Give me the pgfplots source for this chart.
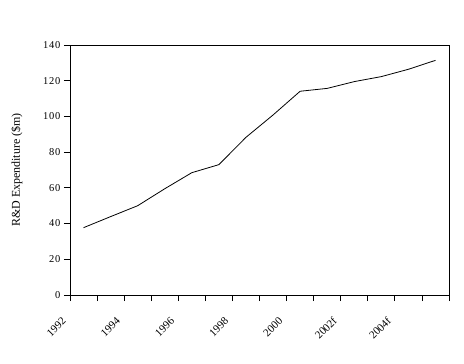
\documentclass[border=0pt]{standalone}
\usepackage{pgfplots}
\pgfplotsset{compat=1.18}
\usepackage{fontspec}
\setmainfont{Liberation Serif}
\newfontfamily\lsfont[LetterSpace=8]{Liberation Serif}
\begin{document}
\begin{tikzpicture}
\path[use as bounding box] (0,0) rectangle (464bp,364bp);
\begin{axis}[
  scale only axis,
  width=379bp, height=250bp,
  at={(70bp,69bp)}, anchor=south west,
  xmin=-0.5, xmax=13.5,
  ymin=0, ymax=140,
  xtick={0,2,4,6,8,10,12},
  xticklabels={1992,1994,1996,1998,2000,2002f,2004f},
  minor xtick={-0.5,0.5,...,13.5},
  major x tick style={draw=none},
  x tick label style={font=\fontsize{11}{12}\selectfont, rotate=45, anchor=east, xshift=-23bp, yshift=1bp},
  ytick={0,20,...,140},
  tick align=outside,
  major tick length=6bp,
  minor tick length=6bp,
  xtick pos=bottom, ytick pos=left,
  y tick label style={font=\lsfont\fontsize{10.5}{12}\selectfont},
  /pgf/number format/assume math mode=true,
  ylabel={R\&D Expenditure (\$m)},
  ylabel style={font=\fontsize{12}{14}\selectfont, at={(axis description cs:-0.14,0.5)}, anchor=center},
  axis line style={black, line width=0.8pt},
  every tick/.style={black, line width=0.8pt},
]
\addplot[black, line width=0.8pt, mark=none] coordinates {
(0,37.7) (1,43.9) (2,50.0) (3,59.5) (4,68.5) (5,73.0) (6,88.3) (7,100.8)
(8,114.1) (9,115.7) (10,119.5) (11,122.3) (12,126.4) (13,131.4)
};
\end{axis}
\end{tikzpicture}
\end{document}
